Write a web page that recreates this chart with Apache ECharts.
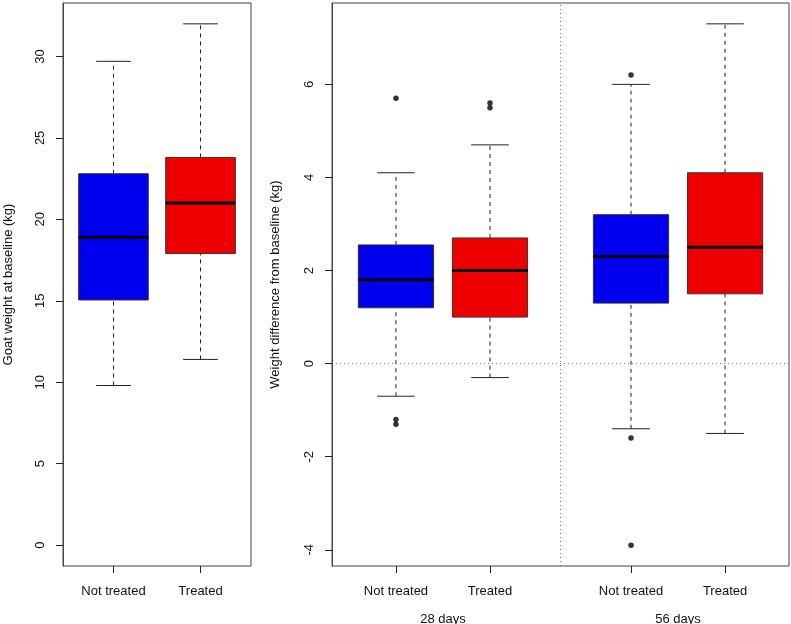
<!DOCTYPE html>
<html>
<head>
<meta charset="utf-8">
<script src="https://cdn.jsdelivr.net/npm/echarts@6/dist/echarts.min.js"></script>
<style>
  html, body { margin: 0; padding: 0; background: #fff; }
  #chart { width: 791px; height: 624px; }
</style>
</head>
<body>
<div id="chart"></div>
<script>
(function() {
    'use strict';

    // groups and periods
    var groups = ['Not treated', 'Treated'];
    var periods = ['28 days', '56 days'];

    // box positions on the x scale
    var baselinePos = [1, 2];
    var changePos = [1, 2, 3.5, 4.5];
    var periodPos = [1.5, 4];
    var dividerX = 2.75;

    // [lower whisker, Q1, median, Q3, upper whisker]
    var baselineStats = [
        [9.8, 15.05, 18.9, 22.8, 29.7],
        [11.4, 17.9, 21.0, 23.8, 32.0]
    ];
    var changeStats = [
        [-0.7, 1.2, 1.8, 2.55, 4.1],
        [-0.3, 1.0, 2.0, 2.7, 4.7],
        [-1.4, 1.3, 2.3, 3.2, 6.0],
        [-1.5, 1.5, 2.5, 4.1, 7.3]
    ];
    // [box index, value]
    var changeOutliers = [
        [0, 5.7], [0, -1.2], [0, -1.3],
        [1, 5.6], [1, 5.5],
        [2, 6.2], [2, -1.6], [2, -3.9]
    ];

    var baselineTicks = [0, 5, 10, 15, 20, 25, 30];
    var changeTicks = [-4, -2, 0, 2, 4, 6];

    var boxColors = ['#0000EE', '#EE0000'];

    var FONT = '"Liberation Sans", Arial, Helvetica, sans-serif';
    var TXT = '#111';

    function boxData(pos, stats) {
        return stats.map(function(s, i) {
            return [pos[i]].concat(s).concat([i % 2]);
        });
    }

    // 画箱线图
    function renderBox(params, api) {
        var x = api.value(0);
        var lo = api.coord([x, api.value(1)]);
        var q1 = api.coord([x, api.value(2)]);
        var md = api.coord([x, api.value(3)]);
        var q3 = api.coord([x, api.value(4)]);
        var hi = api.coord([x, api.value(5)]);
        var w = api.size([0.8, 0])[0];
        var cap = w / 4;
        var cx = lo[0];
        var dash = { stroke: '#222', lineWidth: 1, lineDash: [4, 4] };
        var solid = { stroke: '#222', lineWidth: 1 };
        return {
            type: 'group',
            children: [
                { type: 'line', shape: { x1: cx, y1: q3[1], x2: cx, y2: hi[1] }, style: dash },
                { type: 'line', shape: { x1: cx, y1: lo[1], x2: cx, y2: q1[1] }, style: dash },
                { type: 'line', shape: { x1: cx - cap, y1: hi[1], x2: cx + cap, y2: hi[1] }, style: solid },
                { type: 'line', shape: { x1: cx - cap, y1: lo[1], x2: cx + cap, y2: lo[1] }, style: solid },
                {
                    type: 'rect',
                    shape: { x: cx - w / 2, y: q3[1], width: w, height: q1[1] - q3[1] },
                    style: { fill: boxColors[api.value(6)], stroke: '#333', lineWidth: 1 }
                },
                { type: 'line', shape: { x1: cx - w / 2, y1: md[1], x2: cx + w / 2, y2: md[1] }, style: { stroke: '#000', lineWidth: 3 } }
            ]
        };
    }

    function yAxis(grid, min, max, ticks, name, gap) {
        return {
            gridIndex: grid, type: 'value', min: min, max: max,
            name: name, nameLocation: 'middle', nameGap: gap,
            nameTextStyle: { fontFamily: FONT, fontSize: 13, color: TXT },
            axisLine: { show: true, onZero: false, lineStyle: { color: '#444' } },
            splitLine: { show: false },
            axisTick: { show: true, length: 7, customValues: ticks, lineStyle: { color: '#222', width: 1 } },
            axisLabel: { customValues: ticks, rotate: 90, margin: 16, fontFamily: FONT, fontSize: 13, color: TXT }
        };
    }

    function xAxis(grid, min, max, vals, labels, showTick, margin) {
        return {
            gridIndex: grid, type: 'value', min: min, max: max, position: 'bottom',
            axisLine: { show: false, onZero: false },
            splitLine: { show: false },
            axisTick: { show: showTick, length: 7, customValues: vals, lineStyle: { color: '#222' } },
            axisLabel: {
                customValues: vals, margin: margin, fontFamily: FONT, fontSize: 13, color: TXT,
                formatter: function(v) { return labels[vals.indexOf(v)]; }
            }
        };
    }

    var changeLabels = changePos.map(function(p, i) { return groups[i % 2]; });

    var option = {
        animation: false,
        backgroundColor: '#fff',
        grid: [
            { left: 63, top: 3, width: 188, height: 563, show: true, borderColor: '#444', borderWidth: 1, outerBoundsMode: 'none' },
            { left: 332, top: 3, width: 457, height: 563, show: true, borderColor: '#444', borderWidth: 1, outerBoundsMode: 'none' }
        ],
        xAxis: [
            xAxis(0, 0.42, 2.58, baselinePos, groups, true, 19),
            xAxis(1, 0.32, 5.18, changePos, changeLabels, true, 19),
            xAxis(1, 0.32, 5.18, periodPos, periods, false, 47)
        ],
        yAxis: [
            yAxis(0, -1.28, 33.28, baselineTicks, 'Goat weight at baseline (kg)', 48),
            yAxis(1, -4.348, 7.748, changeTicks, 'Weight difference from baseline (kg)', 50)
        ],
        series: [
            {
                type: 'custom', xAxisIndex: 0, yAxisIndex: 0,
                renderItem: renderBox,
                encode: { x: 0, y: [1, 2, 3, 4, 5] },
                data: boxData(baselinePos, baselineStats)
            },
            {
                type: 'custom', xAxisIndex: 1, yAxisIndex: 1,
                renderItem: renderBox,
                encode: { x: 0, y: [1, 2, 3, 4, 5] },
                data: boxData(changePos, changeStats),
                markLine: {
                    silent: true, symbol: 'none', animation: false,
                    label: { show: false },
                    lineStyle: { color: '#777', type: [1, 3], width: 1 },
                    data: [{ yAxis: 0 }, { xAxis: dividerX }]
                },
                z: 3
            },
            {
                type: 'scatter', xAxisIndex: 1, yAxisIndex: 1,
                symbol: 'circle', symbolSize: 5.5,
                itemStyle: { color: '#000' },
                data: changeOutliers.map(function(o) { return [changePos[o[0]], o[1]]; }),
                z: 4
            }
        ]
    };

    var chart = echarts.init(document.getElementById('chart'));
    chart.setOption(option);
    window.addEventListener('resize', chart.resize);
})();
</script>
</body>
</html>
